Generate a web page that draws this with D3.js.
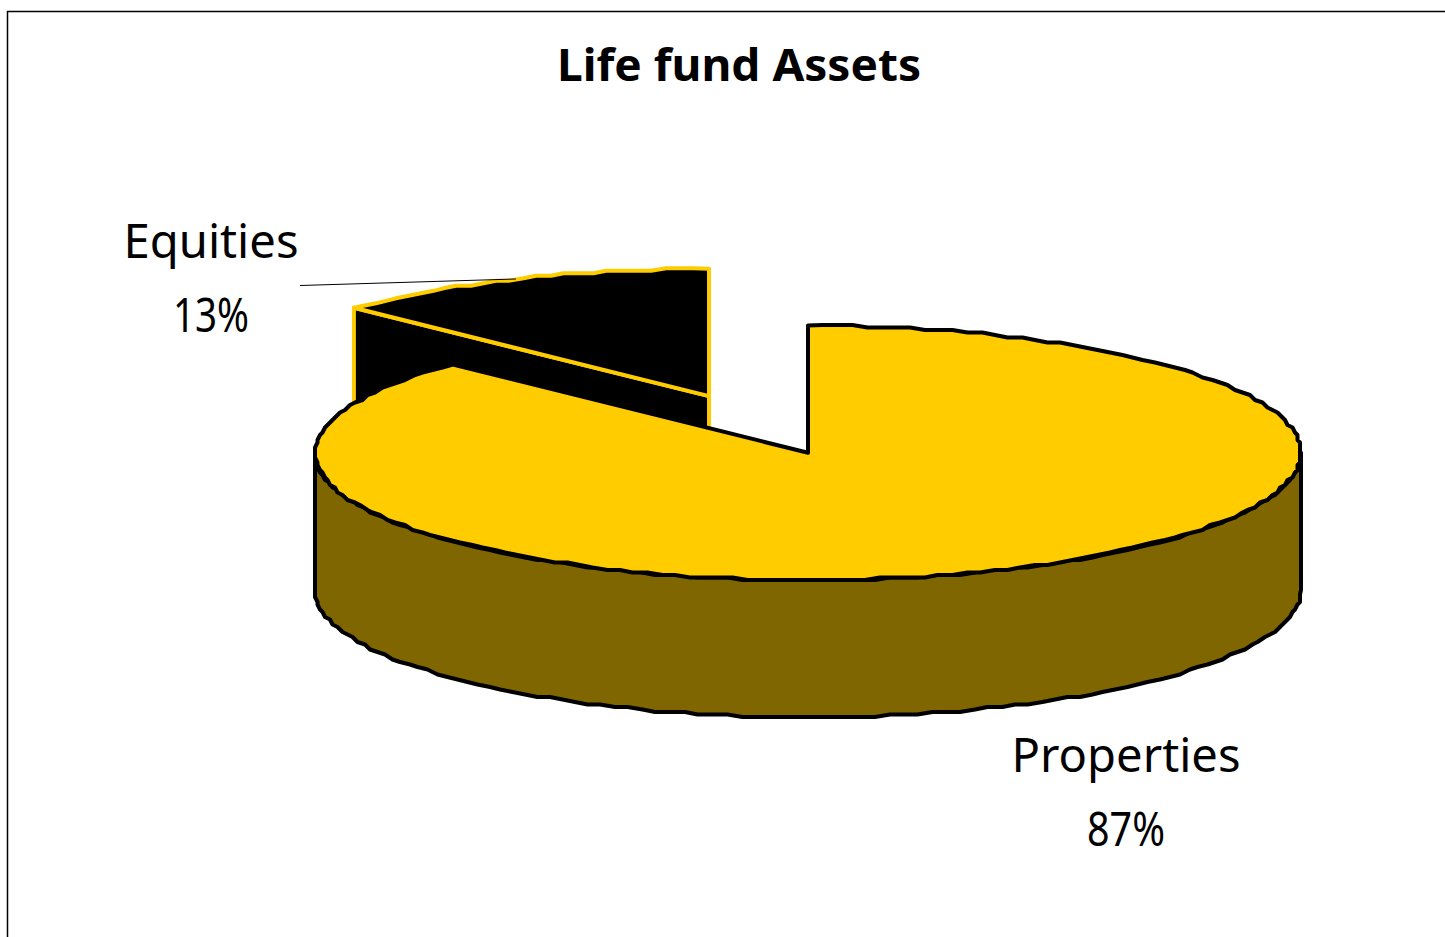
<!DOCTYPE html>
<html>
<head>
<meta charset="utf-8">
<script src="https://cdnjs.cloudflare.com/ajax/libs/d3/7.8.5/d3.min.js"></script>
<style>
body { margin: 0; background: #fff; overflow: hidden; }
text { font-family: "Noto Sans", sans-serif; fill: #000; text-anchor: middle; }
.lbl { font-size: 47px; }
.title { font-size: 45px; font-weight: 700; }
</style>
</head>
<body>
<script>
const chartTitle = 'Life fund Assets';
const categories = ['Properties', 'Equities'];
const values = [87.2, 12.8];
const topColors = ['#ffcc00', '#000000'];
const strokeColors = ['#000000', '#ffcc00'];

const width = 1445, height = 937;
const depth = 137;

const svg = d3.select('body')
    .append('svg')
    .attr('width', width)
    .attr('height', height);

// chart frame, runs off the right and bottom of the page
svg.append('rect')
    .attr('x', 7.5)
    .attr('y', 11.5)
    .attr('width', width)
    .attr('height', height)
    .attr('fill', 'none')
    .attr('stroke', '#000')
    .attr('stroke-width', 1.5);

// unit circle onto the flattened ellipse
const xScale = d3.scaleLinear().domain([-1, 1]).range([315, 1301]);
const yScale = d3.scaleLinear().domain([-1, 1]).range([325.5, 580]);

const slices = d3.pie().sort(null).value(d => d)(values);
const line = d3.line();

// the source is a low-res metafile, so the rims come out slightly stepped
const snap = v => Math.round(v / 2.5) * 2.5;

function rim(a0, a1, dx, dy) {
    const n = Math.max(2, Math.round(Math.abs(a1 - a0) / 0.03));
    const pts = d3.range(n + 1).map(i => {
        const a = a0 + (a1 - a0) * i / n;
        return [snap(xScale(Math.sin(a))) + dx, snap(yScale(-Math.cos(a))) + dy];
    });
    pts[0] = [xScale(Math.sin(a0)) + dx, yScale(-Math.cos(a0)) + dy];
    pts[n] = [xScale(Math.sin(a1)) + dx, yScale(-Math.cos(a1)) + dy];
    return pts;
}

function drawFace(points, fill, stroke) {
    svg.append('path')
        .attr('d', line(points) + 'Z')
        .attr('fill', fill)
        .attr('stroke', stroke)
        .attr('stroke-width', 4)
        .attr('stroke-linejoin', 'round');
}

// Equities is pulled out of the pie
const eq = slices[1];
const mid = (eq.startAngle + eq.endAngle) / 2;
const offX = xScale(Math.sin(mid) * 0.513) - xScale(0);
const offY = yScale(-Math.cos(mid) * 0.484) - yScale(0);
const apex = [xScale(0) + offX, yScale(0) + offY];
const eqRim = rim(eq.startAngle, eq.endAngle, offX, offY);
const eqLeft = eqRim[0];

drawFace([eqLeft, apex, [apex[0], apex[1] + depth], [eqLeft[0], eqLeft[1] + depth]], topColors[1], strokeColors[1]);
drawFace([apex, ...eqRim], topColors[1], strokeColors[1]);

// front wall of the big slice
const front = rim(Math.PI / 2, Math.PI * 1.5, 0, 0);
const frontLow = rim(Math.PI * 1.5, Math.PI / 2, 0, depth);
drawFace([...front, ...frontLow], '#806600', strokeColors[0]);

// top of the big slice
const pr = slices[0];
drawFace([[xScale(0), yScale(0)], ...rim(pr.startAngle, pr.endAngle, 0, 0)], topColors[0], strokeColors[0]);

svg.append('text')
    .attr('class', 'title')
    .attr('x', 739)
    .attr('y', 81)
    .attr('textLength', 364)
    .attr('lengthAdjust', 'spacingAndGlyphs')
    .text(chartTitle);

// leader line for Equities
svg.append('path')
    .attr('d', line([[300, 285.5], [516, 279]]))
    .attr('fill', 'none')
    .attr('stroke', '#000')
    .attr('stroke-width', 1);

const labelPos = [[1126, 772, 846], [211, 258, 332]];
const nameWidths = [229, 175];
const pctWidths = [78, 76];
categories.forEach((c, i) => {
    svg.append('text').attr('class', 'lbl')
        .attr('x', labelPos[i][0]).attr('y', labelPos[i][1])
        .attr('textLength', nameWidths[i]).attr('lengthAdjust', 'spacingAndGlyphs')
        .text(c);
    svg.append('text').attr('class', 'lbl')
        .attr('x', labelPos[i][0]).attr('y', labelPos[i][2])
        .attr('textLength', pctWidths[i]).attr('lengthAdjust', 'spacingAndGlyphs')
        .text(Math.round(values[i]) + '%');
});
</script>
</body>
</html>
